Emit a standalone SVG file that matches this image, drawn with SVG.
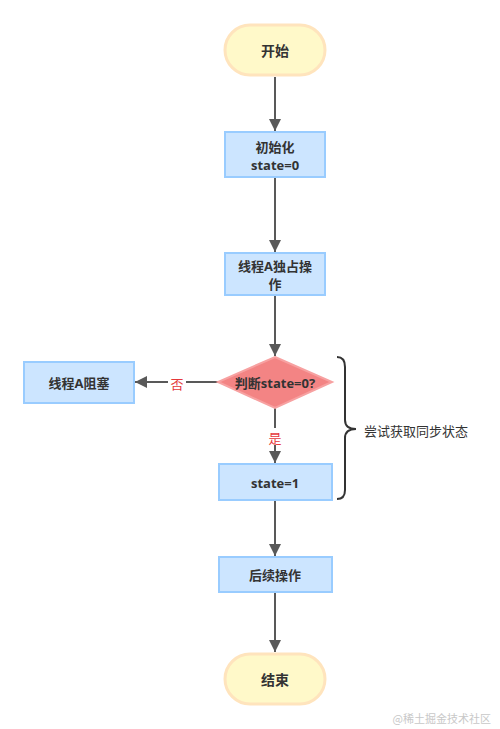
<svg xmlns="http://www.w3.org/2000/svg" width="500" height="729" viewBox="0 0 500 729">
<style>
.t{font-family:"Open Sans","Noto Sans CJK SC",sans-serif;font-size:13px;font-weight:bold;fill:#333;text-anchor:middle;dominant-baseline:central}
.pill{fill:#fff9c9;stroke:#ffe4bd;stroke-width:3}
.box{fill:#cce5ff;stroke:#99ccff;stroke-width:2}
.dia{fill:#f38484;stroke:#f7a1a1;stroke-width:2}
.c{stroke:#595959;stroke-width:2;fill:none}
.lbl{font-family:"Noto Sans CJK SC",sans-serif;font-size:13px;fill:#e5383b;text-anchor:middle;dominant-baseline:central}
</style>
<defs>
<marker id="ah" viewBox="0 0 10 10" refX="10" refY="5" markerWidth="6" markerHeight="6" markerUnits="strokeWidth" orient="auto">
<path d="M0,0 L10,5 L0,10 z" fill="#595959"/>
</marker>
</defs>
<rect width="500" height="729" fill="#fff"/>
<g id="connectors">
<line class="c" x1="275" y1="77" x2="275" y2="131" marker-end="url(#ah)"/>
<line class="c" x1="275" y1="177" x2="275" y2="252" marker-end="url(#ah)"/>
<line class="c" x1="275" y1="295" x2="275" y2="356" marker-end="url(#ah)"/>
<line class="c" x1="218" y1="382" x2="135" y2="382" marker-end="url(#ah)"/>
<line class="c" x1="275" y1="408" x2="275" y2="463" marker-end="url(#ah)"/>
<line class="c" x1="275" y1="500" x2="275" y2="556" marker-end="url(#ah)"/>
<line class="c" x1="275" y1="592" x2="275" y2="652" marker-end="url(#ah)"/>
<rect x="168" y="374" width="18" height="17" fill="#fff"/>
<text class="lbl" x="177" y="383">否</text>
<rect x="266" y="428" width="18" height="17" fill="#fff"/>
<text class="lbl" x="275" y="437">是</text>
</g>
<g id="start">
<rect class="pill" x="225" y="25" width="100" height="50" rx="25"/>
<text class="t" x="275" y="50" style="font-size:14px">开始</text>
</g>
<g id="init">
<rect class="box" x="225" y="132" width="100" height="45"/>
<text class="t" x="275" y="147">初始化</text>
<text class="t" x="275" y="165">state=0</text>
</g>
<g id="exclusive">
<rect class="box" x="225" y="253" width="100" height="42"/>
<text class="t" x="275" y="266">线程A独占操</text>
<text class="t" x="275" y="284">作</text>
</g>
<g id="decision">
<polygon class="dia" points="275,357 332,382 275,408 218,382"/>
<text class="t" x="275" y="383">判断state=0?</text>
</g>
<g id="blocked">
<rect class="box" x="24" y="362" width="110" height="41"/>
<text class="t" x="79" y="383">线程A阻塞</text>
</g>
<g id="state1">
<rect class="box" x="219" y="464" width="113" height="36"/>
<text class="t" x="275" y="483">state=1</text>
</g>
<g id="follow">
<rect class="box" x="219" y="557" width="113" height="35"/>
<text class="t" x="275" y="575">后续操作</text>
</g>
<g id="end">
<rect class="pill" x="225" y="654" width="100" height="50" rx="25"/>
<text class="t" x="275" y="679" style="font-size:14px">结束</text>
</g>
<g id="brace">
<path d="M337,357 Q345,357 345,367 L345,420 Q345,429 356,429 Q345,429 345,438 L345,490 Q345,499 337,499" fill="none" stroke="#333" stroke-width="2"/>
<text x="364" y="430" style="font-family:'Noto Sans CJK SC',sans-serif;font-size:13px;fill:#333;dominant-baseline:central">尝试获取同步状态</text>
</g>
<text x="491" y="718" style="font-family:'Noto Sans CJK SC',sans-serif;font-size:11px;fill:#c8c8c8;text-anchor:end;dominant-baseline:central">@稀土掘金技术社区</text>
</svg>
